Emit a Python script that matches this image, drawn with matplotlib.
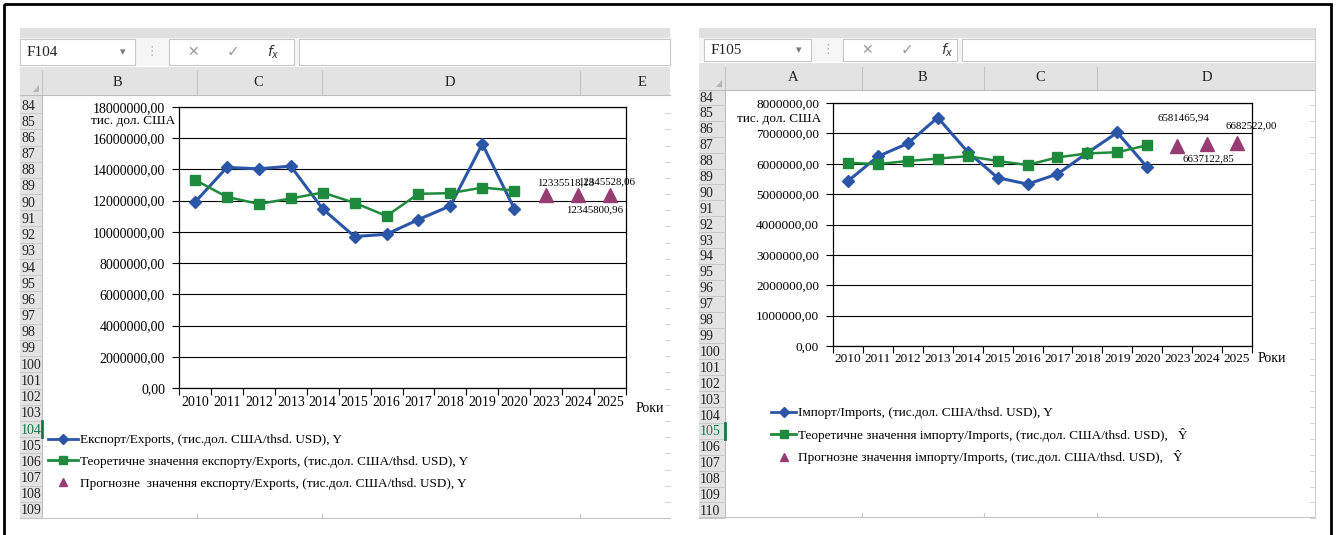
import numpy as np
import matplotlib
matplotlib.use("Agg")
from matplotlib import pyplot as plt
from matplotlib.lines import Line2D
from matplotlib.patches import Rectangle, Polygon
from matplotlib.ticker import FuncFormatter

plt.rcParams['font.family'] = ['Liberation Serif', 'DejaVu Sans']

# -----------------------------------------------------------#
#                         Data
# -----------------------------------------------------------#
years = ["2010", "2011", "2012", "2013", "2014", "2015", "2016",
         "2017", "2018", "2019", "2020", "2023", "2024", "2025"]

exports = [11900000, 14130000, 14040000, 14210000, 11470000, 9700000,
           9850000, 10790000, 11670000, 15630000, 11490000]
exports_theor = [13330000, 12240000, 11790000, 12140000, 12520000, 11860000,
                 11020000, 12440000, 12480000, 12840000, 12650000]
exports_fc = [12335518.18, 12345800.96, 12345528.06]

imports = [5430000, 6240000, 6670000, 7520000, 6390000, 5540000,
           5330000, 5660000, 6360000, 7030000, 5880000]
imports_theor = [6030000, 5990000, 6090000, 6170000, 6250000, 6090000,
                 5960000, 6210000, 6340000, 6380000, 6610000]
imports_fc = [6581465.94, 6637122.85, 6682522.00]

exp_legend = ["Експорт/Exports, (тис.дол. США/thsd. USD), Y",
              "Теоретичне значення експорту/Exports, (тис.дол. США/thsd. USD), Y",
              "Прогнозне  значення експорту/Exports, (тис.дол. США/thsd. USD), Y"]
imp_legend = ["Імпорт/Imports, (тис.дол. США/thsd. USD), Y",
              "Теоретичне значення імпорту/Imports, (тис.дол. США/thsd. USD),   \u0176",
              "Прогнозне значення імпорту/Imports, (тис.дол. США/thsd. USD),   \u0176"]

BLUE = "#2B55A6"
GREEN = "#1E8A3C"
PURPLE = "#963C72"

W, H = 1336, 535


def px_box(x0, y0, x1, y1):
    return [x0 / W, 1 - y1 / H, (x1 - x0) / W, (y1 - y0) / H]


def comma_fmt(v, pos=None):
    return f"{v:.2f}".replace('.', ',')


fig = plt.figure(figsize=(W / 100, H / 100), dpi=100)
bg = fig.add_axes([0, 0, 1, 1])
bg.set_xlim(0, W)
bg.set_ylim(H, 0)
bg.axis('off')


# -----------------------------------------------------------#
#                    Excel sheet chrome
# -----------------------------------------------------------#
def draw_sheet(x0, x1, name, nb, fxb, form_y1, hdr, rh_x1, seps, letters,
               row_y0, row_h, nrows, sel_row, bottom):
    bg.add_patch(Rectangle((x0, 28), x1 - x0, 10, color='#e0e0e0', lw=0))
    bg.add_patch(Rectangle((x0, 38), x1 - x0, form_y1 - 38, color='#f5f5f5', lw=0))
    # name box
    bg.add_patch(Rectangle((nb[0], 38.5), nb[1] - nb[0], form_y1 - 39.5,
                           facecolor='white', edgecolor='#c8c8c8', lw=0.8))
    ym = (38 + form_y1) / 2
    bg.text(nb[0] + 7, ym, name, fontsize=11, va='center', color='#222222')
    bg.text(nb[1] - 12, ym, "\u25be", fontsize=8, va='center', ha='center',
            color='#777777', family='DejaVu Sans')
    bg.text(nb[1] + 17, ym, "\u22ee", fontsize=9, va='center', ha='center',
            color='#b0b0b0', family='DejaVu Sans')
    # fx box
    bg.add_patch(Rectangle((fxb[0], 38.5), fxb[1] - fxb[0], form_y1 - 39.5,
                           facecolor='white', edgecolor='#c8c8c8', lw=0.8))
    bg.text(fxb[0] + 24, ym, "\u2715", fontsize=10, va='center', ha='center',
            color='#9a9a9a', family='DejaVu Sans')
    bg.text(fxb[0] + 64, ym, "\u2713", fontsize=11, va='center', ha='center',
            color='#9a9a9a', family='DejaVu Sans')
    bg.text(fxb[0] + 104, ym, r"$f_x$", fontsize=10, va='center', ha='center',
            color='#333333')
    bg.add_patch(Rectangle((fxb[1] + 5, 38.5), x1 - fxb[1] - 5, form_y1 - 39.5,
                           facecolor='white', edgecolor='#c8c8c8', lw=0.8))
    # column header
    bg.add_patch(Rectangle((x0, hdr[0]), x1 - x0, hdr[1] - hdr[0], color='#e3e3e3', lw=0))
    bg.plot([x0, x1], [hdr[1], hdr[1]], color='#bdbdbd', lw=0.8)
    bg.add_patch(Polygon([(rh_x1 - 9, hdr[1] - 3), (rh_x1 - 3, hdr[1] - 3),
                          (rh_x1 - 3, hdr[1] - 10)], color='#b5b5b5', lw=0))
    for s in seps:
        bg.plot([s, s], [hdr[0] + 4, hdr[1]], color='#c4c4c4', lw=0.8)
    for lx, lt in letters:
        bg.text(lx, (hdr[0] + hdr[1]) / 2 + 1, lt, fontsize=10.5, ha='center',
                va='center', color='#222222')
    # row header
    bg.add_patch(Rectangle((x0, hdr[1]), rh_x1 - x0, bottom - hdr[1], color='#e3e3e3', lw=0))
    bg.plot([rh_x1, rh_x1], [hdr[1], bottom], color='#bdbdbd', lw=0.8)
    for i in range(nrows):
        yc = row_y0 + i * row_h
        num = 84 + i
        col = '#217346' if num == sel_row else '#222222'
        bg.text(x0 + 1, yc + 1, str(num), fontsize=10, va='center', color=col)
        bg.plot([x0, rh_x1], [yc + row_h / 2, yc + row_h / 2], color='#c9c9c9', lw=0.7)
        bg.plot([x1 - 5, x1], [yc + row_h / 2, yc + row_h / 2], color='#d4d4d4', lw=0.7)
        if num == sel_row:
            bg.plot([rh_x1, rh_x1], [yc - row_h / 2, yc + row_h / 2], color='#217346', lw=2)
    bg.plot([x0, x1], [bottom, bottom], color='#c4c4c4', lw=0.8)
    for s in seps:
        bg.plot([s, s], [bottom - 4, bottom], color='#c4c4c4', lw=0.8)


draw_sheet(20, 670, "F104", (20, 135), (169, 294), 66, (67, 95), 42,
           [42, 197, 322, 580],
           [(117, "B"), (258, "C"), (450, "D"), (642, "E")],
           105, 16.2, 26, 104, 518)
draw_sheet(699, 1315, "F105", (704, 811), (843, 957), 62, (63, 90), 725,
           [725, 862, 984, 1097],
           [(793, "A"), (922, "B"), (1040, "C"), (1207, "D")],
           97, 15.9, 27, 105, 517)
bg.plot([1315, 1315], [28, 517], color='#cfcfcf', lw=0.8)
bg.add_patch(Rectangle((4, 4), 1327, 560, fill=False, edgecolor='black', lw=2,
                       clip_on=False))


# -----------------------------------------------------------#
#                         Charts
# -----------------------------------------------------------#
def draw_chart(ax, actual, theor, fc, ymax, ystep, fs, xpad, offsets):
    x = np.arange(len(years))
    n = len(actual)
    ax.plot(x[:n], actual, color=BLUE, lw=2.2, marker='D', ms=6, zorder=4)
    ax.plot(x[:n], theor, color=GREEN, lw=1.8, marker='s', ms=6.5, zorder=5)
    ax.plot(x[n:], fc, ls='none', marker='^', ms=10, color=PURPLE, zorder=5)
    for xi, v, off in zip(x[n:], fc, offsets):
        ax.annotate(comma_fmt(v), (xi, v), xytext=off, textcoords='offset pixels',
                    ha='center', va='center', fontsize=7.8, annotation_clip=False)
    ax.set_xlim(-0.5, len(years) - 0.5)
    ax.set_ylim(0, ymax)
    ax.set_yticks(np.arange(0, ymax + 1, ystep))
    ax.yaxis.set_major_formatter(FuncFormatter(comma_fmt))
    ax.grid(axis='y', color='black', lw=0.8)
    ax.set_axisbelow(True)
    ax.set_xticks(np.arange(-0.5, len(years), 1))
    ax.set_xticks(x, minor=True)
    ax.set_xticklabels(years, minor=True)
    ax.tick_params(axis='x', which='major', length=5, width=0.8, labelbottom=False)
    ax.tick_params(axis='x', which='minor', length=0, pad=xpad, labelsize=fs)
    ax.tick_params(axis='y', length=5, width=0.8, pad=5, labelsize=fs)
    for sp in ax.spines.values():
        sp.set_color('black')
        sp.set_linewidth(0.9)


ax1 = fig.add_axes(px_box(179, 107, 626, 388))
draw_chart(ax1, exports, exports_theor, exports_fc, 18000000, 2000000, 10, 6,
           [(19, 13), (17, -15), (-3, 13)])
ax2 = fig.add_axes(px_box(833, 103, 1252, 346))
draw_chart(ax2, imports, imports_theor, imports_fc, 8000000, 1000000, 9.5, 5,
           [(6, 28), (1, -14), (14, 17)])

bg.text(175, 121, "тис. дол. США", fontsize=9.5, ha='right', va='center')
bg.text(821, 119, "тис. дол. США", fontsize=9.5, ha='right', va='center')
bg.text(636, 409, "Роки", fontsize=10, ha='left', va='center')
bg.text(1258, 358, "Роки", fontsize=10, ha='left', va='center')

# -----------------------------------------------------------#
#                         Legends
# -----------------------------------------------------------#
def legend_handles():
    return [Line2D([], [], color=BLUE, lw=2, marker='D', ms=5),
            Line2D([], [], color=GREEN, lw=2, marker='s', ms=5.5),
            Line2D([], [], ls='none', color=PURPLE, marker='^', ms=6)]


fig.legend(legend_handles(), exp_legend, loc='upper left',
           bbox_to_anchor=(48 / W, 1 - 434 / H), frameon=False, fontsize=9.5,
           handlelength=2.27, handletextpad=0.15, labelspacing=0.72,
           borderpad=0, borderaxespad=0)
fig.legend(legend_handles(), imp_legend, loc='upper left',
           bbox_to_anchor=(771 / W, 1 - 407 / H), frameon=False, fontsize=9.5,
           handlelength=1.9, handletextpad=0.15, labelspacing=0.64,
           borderpad=0, borderaxespad=0)

fig.savefig("out.png", dpi=100)
